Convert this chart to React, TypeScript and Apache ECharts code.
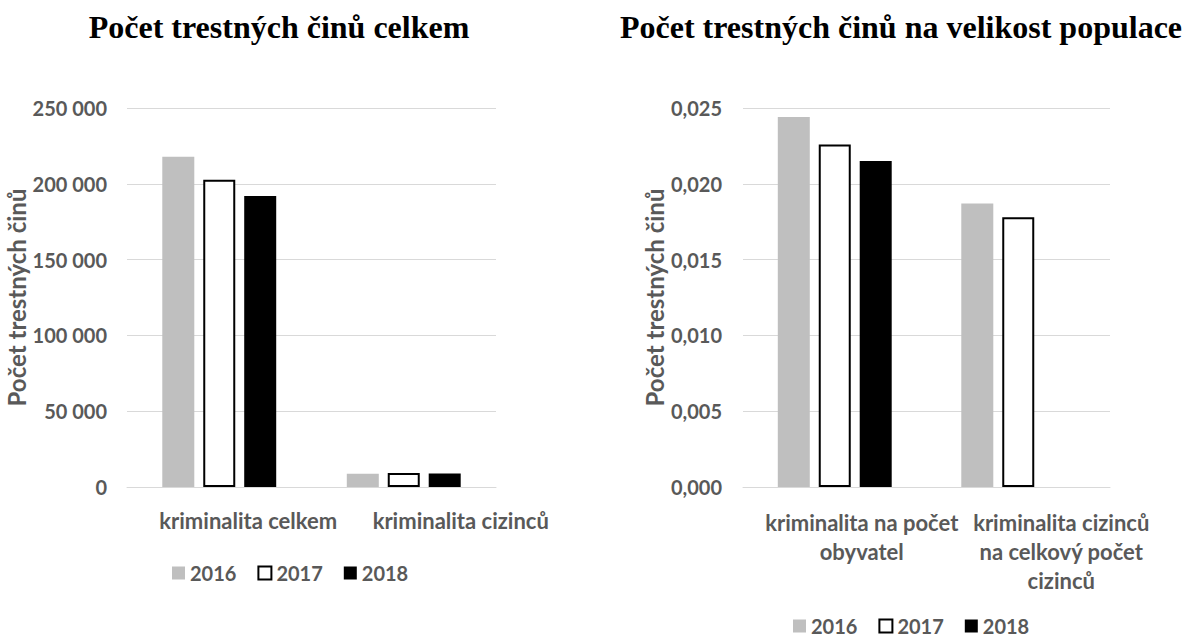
import React, { useEffect, useRef } from "react";
import * as echarts from "echarts";

const years = ["2016", "2017", "2018"];

const leftCategories = ["kriminalita celkem", "kriminalita cizinců"];
const left2016 = [217800, 8800];
const left2017 = [202600, 9300];
const left2018 = [192000, 8900];

const rightCategories = [
  "kriminalita na počet\nobyvatel",
  "kriminalita cizinců\nna celkový počet\ncizinců",
];
const right2016 = [0.0244, 0.0187];
const right2017 = [0.0226, 0.0178];
const right2018: (number | null)[] = [0.0215, null];

const leftTicks = { min: 0, max: 250000, interval: 50000 };
const rightTicks = { min: 0, max: 0.025, interval: 0.005 };

const titleLeft = "Počet trestných činů celkem";
const titleRight = "Počet trestných činů na velikost populace";
const yName = "Počet trestných činů";

const GRAY = "#595959";
const GRID = "#d9d9d9";
const SANS = "Lato, 'Open Sans', sans-serif";

const styles = [
  { color: "#bfbfbf" },
  { color: "#ffffff", borderColor: "#000000", borderWidth: 2 },
  { color: "#000000" },
];

export default function App() {
  const ref = useRef<HTMLDivElement>(null);
  useEffect(() => {
    if (!ref.current) return;
    const chart = echarts.init(ref.current, null, { renderer: "svg" });
    const labelText = { fontFamily: SANS, fontWeight: "bold" as const, fontSize: 20, color: GRAY };
    const catText = { ...labelText, fontSize: 22 };
    const leftSeries = [left2016, left2017, left2018];
    const rightSeries = [right2016, right2017, right2018];
    const series: any[] = [];
    years.forEach((y, i) => {
      series.push({
        type: "bar",
        name: y,
        xAxisIndex: 0,
        yAxisIndex: 0,
        data: leftSeries[i],
        barWidth: 32,
        barGap: "28%",
        itemStyle: styles[i],
      });
    });
    years.forEach((y, i) => {
      series.push({
        type: "bar",
        name: y,
        xAxisIndex: 1,
        yAxisIndex: 1,
        data: rightSeries[i],
        barWidth: 32,
        barGap: "28%",
        itemStyle: styles[i],
      });
    });
    const legendBase = {
      data: years,
      icon: "rect",
      itemWidth: 13,
      itemHeight: 13,
      itemGap: 21,
      padding: 2,
      textStyle: { ...labelText, lineHeight: 20 },
      selectedMode: false,
    };
    const titleFont = "bold 32px 'Liberation Serif', 'Times New Roman', serif";
    chart.setOption({
      animation: false,
      backgroundColor: "#ffffff",
      graphic: [
        {
          type: "text",
          x: 279,
          y: 27,
          style: { text: titleLeft, align: "center", verticalAlign: "middle", font: titleFont, fill: "#000000" },
        },
        {
          type: "text",
          x: 901,
          y: 27,
          style: { text: titleRight, align: "center", verticalAlign: "middle", font: titleFont, fill: "#000000" },
        },
      ],
      legend: [
        { ...legendBase, left: 170, top: 561 },
        { ...legendBase, left: 791, top: 614 },
      ],
      grid: [
        { left: 127, top: 108, width: 369, height: 379 },
        { left: 743, top: 108, width: 367, height: 379 },
      ],
      xAxis: [
        {
          type: "category",
          gridIndex: 0,
          data: leftCategories,
          axisTick: { show: false },
          axisLine: { lineStyle: { color: GRID, width: 1 } },
          axisLabel: {
            interval: 0,
            margin: 20,
            formatter: (v: string, i: number) => `{c${i}|${v}}`,
            rich: {
              c0: { ...catText, lineHeight: 26, padding: [0, 0, 0, 58] },
              c1: { ...catText, lineHeight: 26, padding: [0, 0, 0, 114] },
            },
          },
        },
        {
          type: "category",
          gridIndex: 1,
          data: rightCategories,
          axisTick: { show: false },
          axisLine: { lineStyle: { color: GRID, width: 1 } },
          axisLabel: {
            interval: 0,
            margin: 21,
            formatter: (v: string, i: number) => `{c${i}|${v}}`,
            rich: {
              c0: { ...catText, lineHeight: 29, padding: [0, 0, 0, 54] },
              c1: { ...catText, lineHeight: 29, padding: [0, 0, 0, 86] },
            },
          },
        },
      ],
      yAxis: [
        {
          type: "value",
          gridIndex: 0,
          ...leftTicks,
          name: yName,
          nameLocation: "middle",
          nameGap: 96,
          nameTextStyle: { ...labelText, fontSize: 24 },
          axisLine: { show: false },
          axisTick: { show: false },
          splitLine: { lineStyle: { color: GRID, width: 1 } },
          axisLabel: {
            ...labelText,
            margin: 20,
            formatter: (v: number) => String(Math.round(v)).replace(/\B(?=(\d{3})+(?!\d))/g, " "),
          },
        },
        {
          type: "value",
          gridIndex: 1,
          ...rightTicks,
          name: yName,
          nameLocation: "middle",
          nameGap: 77,
          nameTextStyle: { ...labelText, fontSize: 24 },
          axisLine: { show: false },
          axisTick: { show: false },
          splitLine: { lineStyle: { color: GRID, width: 1 } },
          axisLabel: {
            ...labelText,
            margin: 21,
            formatter: (v: number) => v.toFixed(3).replace(".", ","),
          },
        },
      ],
      series,
    });
    return () => chart.dispose();
  }, []);
  return (
    <div
      ref={ref}
      style={{ position: "fixed", left: 0, top: 0, width: 1184, height: 638, background: "#fff" }}
    />
  );
}
